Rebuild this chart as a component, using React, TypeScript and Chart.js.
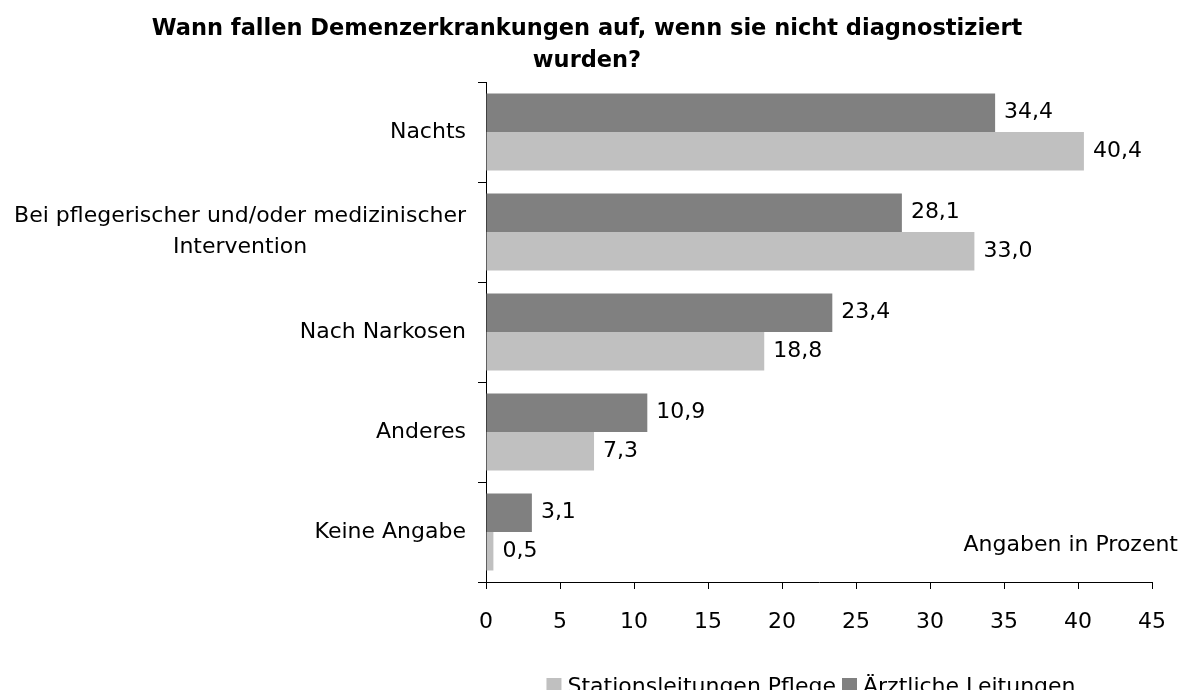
import React, { useEffect, useRef } from "react";
import { Chart, registerables } from "chart.js";

Chart.register(...registerables);

const titleLines = ["Wann fallen Demenzerkrankungen auf, wenn sie nicht diagnostiziert", "wurden?"];
const categories = ["Nachts", "Bei pflegerischer und/oder medizinischer\nIntervention", "Nach Narkosen", "Anderes", "Keine Angabe"];
const seriesNames = ["Ärztliche Leitungen", "Stationsleitungen Pflege"];
const aerztlicheLeitungen = [34.4, 28.1, 23.4, 10.9, 3.1];
const stationsleitungenPflege = [40.4, 33.0, 18.8, 7.3, 0.5];
const xMin = 0;
const xMax = 45;
const xStep = 5;
const note = "Angaben in Prozent";

const FONT = 'Tahoma, "DejaVu Sans", sans-serif';
const DARK = "#808080";
const LIGHT = "#c0c0c0";
const FS = 22;

const fmt = (v: number) => v.toFixed(1).replace(".", ",");

const overlay = {
  id: "overlay",
  afterDraw(chart: any) {
    const ctx = chart.ctx as CanvasRenderingContext2D;
    const yScale = chart.scales.y;
    ctx.save();
    ctx.fillStyle = "#000";
    // title
    ctx.font = `bold 22.5px ${FONT}`;
    ctx.textAlign = "center";
    ctx.textBaseline = "middle";
    titleLines.forEach((l, i) => ctx.fillText(l, 579, 21 + i * 32));
    // category labels
    ctx.font = `${FS}px ${FONT}`;
    categories.forEach((c, i) => {
      const lines = c.split("\n");
      const y = yScale.getPixelForValue(i);
      const widths = lines.map((l) => ctx.measureText(l).width);
      const w = Math.max(...widths);
      const cx = 458 - w / 2;
      const lh = 31;
      lines.forEach((l, j) => {
        ctx.textAlign = "center";
        ctx.fillText(l, cx, y + (j - (lines.length - 1) / 2) * lh);
      });
    });
    // data labels
    ctx.textAlign = "left";
    chart.data.datasets.forEach((ds: any, di: number) => {
      const meta = chart.getDatasetMeta(di);
      meta.data.forEach((bar: any, i: number) => {
        ctx.fillText(fmt(ds.data[i]), bar.x + 9, bar.y);
      });
    });
    // note
    ctx.textAlign = "right";
    ctx.fillText(note, 1170, 537);
    // legend
    const items = [
      { label: seriesNames[1], color: LIGHT },
      { label: seriesNames[0], color: DARK },
    ];
    const box = 15, gap = 6, itemGap = 6;
    const widths = items.map((it) => ctx.measureText(it.label).width);
    const total = widths.reduce((a, b) => a + b, 0) + items.length * (box + gap) + itemGap;
    let x = 803 - total / 2;
    const baseline = 685;
    ctx.textAlign = "left";
    ctx.textBaseline = "alphabetic";
    items.forEach((it, i) => {
      ctx.fillStyle = it.color;
      ctx.fillRect(x, 670, box, box);
      ctx.fillStyle = "#000";
      ctx.fillText(it.label, x + box + gap, baseline);
      x += box + gap + widths[i] + itemGap;
    });
    ctx.restore();
  },
};

export default function App() {
  const ref = useRef<HTMLCanvasElement | null>(null);
  useEffect(() => {
    if (!ref.current) return;
    const chart = new Chart(ref.current, {
      type: "bar",
      data: {
        labels: categories,
        datasets: [
          { label: seriesNames[0], data: aerztlicheLeitungen, backgroundColor: DARK, categoryPercentage: 0.77, barPercentage: 1.0 },
          { label: seriesNames[1], data: stationsleitungenPflege, backgroundColor: LIGHT, categoryPercentage: 0.77, barPercentage: 1.0 },
        ],
      },
      options: {
        indexAxis: "y",
        animation: false,
        responsive: true,
        maintainAspectRatio: false,
        layout: { padding: { top: 74, right: 27, bottom: 0, left: 0 } },
        plugins: { legend: { display: false }, title: { display: false }, tooltip: { enabled: false } },
        scales: {
          x: {
            min: xMin,
            max: xMax,
            ticks: { stepSize: xStep, color: "#000", font: { family: FONT, size: FS }, padding: 20 },
            grid: { drawOnChartArea: false, drawTicks: true, tickLength: 7, color: "#000" },
            border: { color: "#000" },
            afterFit: (s: any) => { s.height = 116; s.paddingRight = 0; s.paddingLeft = 0; },
          },
          y: {
            ticks: { display: false },
            grid: { drawOnChartArea: false, drawTicks: true, tickLength: 8, color: "#000", offset: true },
            border: { color: "#000" },
            afterFit: (s: any) => { s.width = 478; s.paddingTop = 0; s.paddingBottom = 0; },
          },
        },
      },
      plugins: [overlay],
    });
    return () => chart.destroy();
  }, []);
  return (
    <div style={{ width: 1171, height: 690, marginBottom: -8, position: "relative" }}>
      <canvas ref={ref} />
    </div>
  );
}
